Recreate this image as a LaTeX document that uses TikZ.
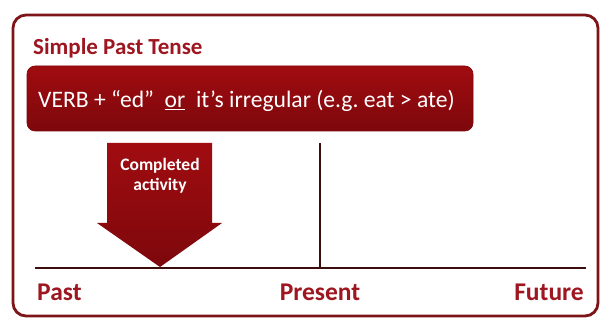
\documentclass[tikz,border=0pt]{standalone}
\usepackage{fontspec}
\setmainfont{Carlito}
\frenchspacing
\definecolor{dred}{RGB}{158,22,32}
\definecolor{bannerred}{RGB}{160,12,16}
\definecolor{bannerdark}{RGB}{125,8,12}
\definecolor{boxborder}{RGB}{125,20,24}
\definecolor{linedark}{RGB}{60,14,14}
\tikzset{
  label/.style={text=dred, font=\bfseries\fontsize{25.5}{28}\selectfont, inner sep=0pt},
  titlelabel/.style={text=dred, font=\bfseries\fontsize{23}{26}\selectfont, inner sep=0pt},
  banner/.style={rounded corners=8pt, top color=bannerred, bottom color=bannerdark, draw=bannerdark, line width=0.6pt},
  bigarrow/.style={top color=bannerred, bottom color=bannerdark, draw=none},
  axisline/.style={draw=linedark, line width=2.6pt}
}
\begin{document}
\begin{tikzpicture}[x=1pt,y=-1pt]
\useasboundingbox (0,0) rectangle (611,323);
\fill[white] (0,0) rectangle (611,323);
% outer box
\draw[boxborder, line width=2.8pt, rounded corners=13pt] (13,15) rectangle (598,316);
% title
\node[titlelabel, anchor=base west] (title) at (33,55) {Simple Past Tense};
% banner
\path[banner] (27,66) rectangle (473,131);
\node[text=white, font=\fontsize{23.6}{26}\selectfont, anchor=base west, inner sep=0pt] (rule) at (38,108)
  {VERB + “ed” \ \underline{or} \ it’s irregular (e.g. eat > ate)};
% arrow
\path[bigarrow] (107,143) -- (212,143) -- (212,223) -- (222,223) -- (160,267) -- (97,223) -- (107,223) -- cycle;
\node[text=white, font=\bfseries\fontsize{17.5}{20}\selectfont, align=center, inner sep=0pt] (act) at (160,176) {Completed\\activity};
% timeline
\coordinate (tl) at (35,268);
\coordinate (tr) at (586,268);
\coordinate (ptop) at (320,143);
\coordinate (pbot) at (320,268);
\draw[axisline] (ptop) -- (pbot);
\draw[axisline] (tl) -- (tr);
% labels
\node[label, anchor=base west] (past) at (37,301) {Past};
\node[label, anchor=base] (present) at (320,301) {Present};
\node[label, anchor=base east] (future) at (584,301) {Future};
\end{tikzpicture}
\end{document}
